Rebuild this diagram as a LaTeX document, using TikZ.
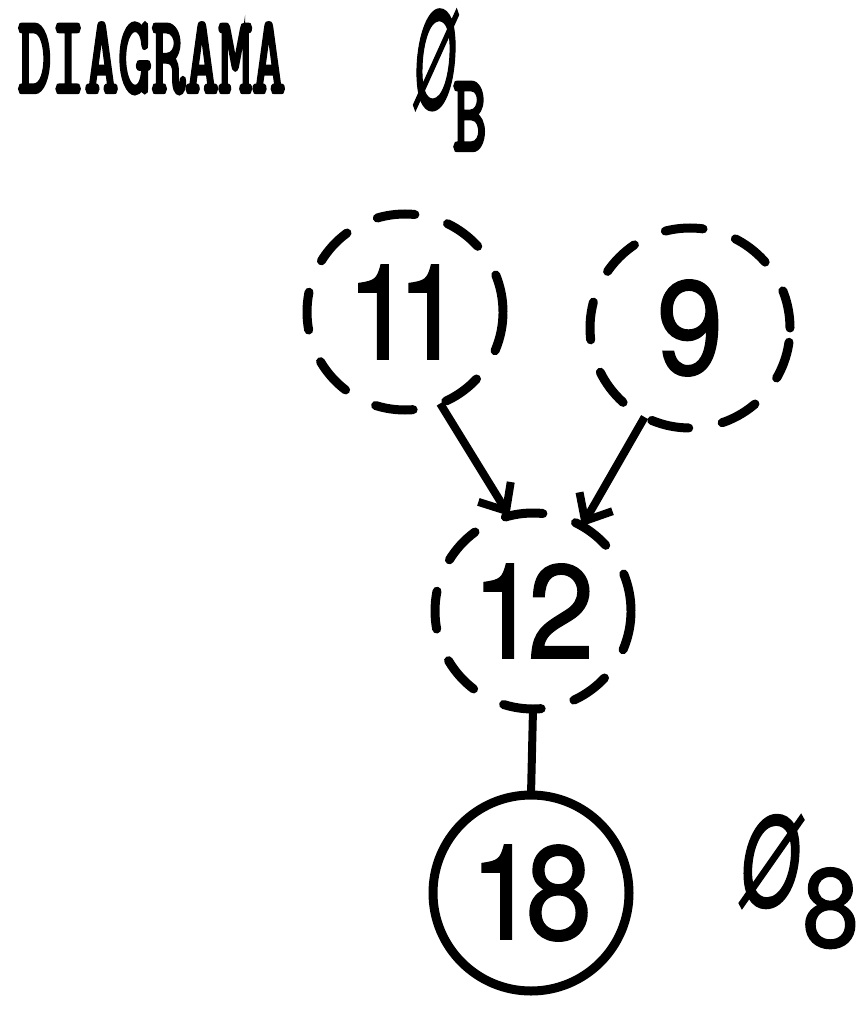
\documentclass[tikz,border=0pt]{standalone}
\usepackage{fontspec}
\usetikzlibrary{arrows.meta}
\newfontfamily\typefont{Latin Modern Mono}[FakeBold=4]
\newfontfamily\digitfont{TeX Gyre Heros}[FakeBold=1.2]
\newfontfamily\slashfont{TeX Gyre Heros}[FakeBold=1.8]
\newcommand\digitlabel{\digitfont\fontsize{133}{140}\selectfont}
\newcommand\typelabel{\typefont\fontsize{110}{112}\selectfont}
\newcommand\narrowdigits[1]{\scalebox{0.9}[1]{#1}}
\newcommand\narrowtype[1]{\scalebox{0.59}[1]{#1}}
\begin{document}
\begin{tikzpicture}[x=1pt,y=-1pt,
  state/.style={circle, draw, line width=9pt, minimum size=196pt,
    inner sep=0pt, outer sep=0pt, font=\digitlabel},
  dashedstate/.style={state, dash pattern=on 38pt off 34pt, line cap=round},
  link/.style={line width=8pt},
  flow/.style={link, -{Straight Barb[length=22pt,width=38pt]}},
  label/.style={anchor=base west, inner sep=0pt, outer sep=0pt},
]
\useasboundingbox (0,0) rectangle (860,1011);

% heading
\node[label, font=\typelabel] (title) at (18,92) {\narrowtype{DIAGRAMA}};
\node[label, font=\slashfont\itshape\fontsize{132}{134}\selectfont] (phiB) at (414,108) {\scalebox{0.4}[1]{Ø}};
\node[label, font=\typelabel] (subB) at (453,150) {\narrowtype{B}};

% states
\node[dashedstate] (n11) at (405,312) {\narrowdigits{1\kern-18pt1}};
\node[dashedstate, minimum size=200pt] (n9) at (690,328) {\narrowdigits{9}};
\node[dashedstate] (n12) at (533,611) {\narrowdigits{1\kern-12pt2}};
\node[state] (n18) at (531,893) {\narrowdigits{1\kern-12pt8}};

% final-state label
\node[label, font=\slashfont\itshape\fontsize{122}{124}\selectfont] (phi8) at (740,906) {\scalebox{0.62}[1]{Ø}};
\node[label, font=\digitlabel\fontsize{112}{114}\selectfont] (sub8) at (802,947) {\scalebox{0.92}[1]{8}};

% connectors
\draw[flow] (n11.-69) -- (n12.104);
\draw[flow] (n9.-117) -- (n12.60);
\draw[link] (n12.south) -- (n18.north);
\end{tikzpicture}
\end{document}
